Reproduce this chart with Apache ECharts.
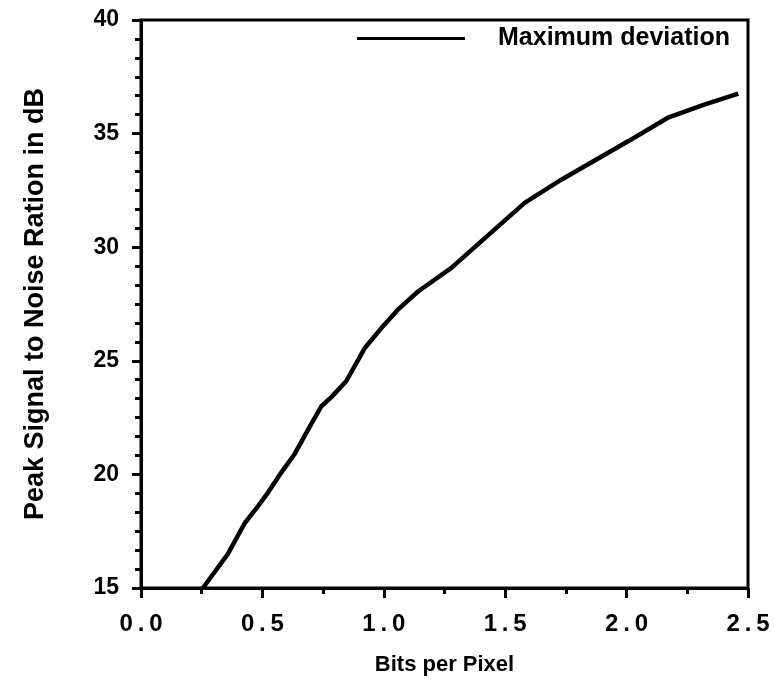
<!DOCTYPE html>
<html>
<head>
<meta charset="utf-8">
<script src="https://cdn.jsdelivr.net/npm/echarts@6/dist/echarts.min.js"></script>
<style>html,body{margin:0;padding:0;background:#fff}#c{width:775px;height:681px}</style>
</head>
<body>
<div id="c"></div>
<script>
const bitsPerPixel = [0.255,0.358,0.427,0.475,0.523,0.577,0.633,0.695,0.743,0.784,0.845,0.921,0.99,1.058,1.141,1.277,1.58,1.731,2.006,2.17,2.32,2.46];
const psnr = [15.0,16.5,17.85,18.5,19.2,20.07,20.9,22.1,23.0,23.4,24.1,25.55,26.44,27.25,28.05,29.08,31.95,32.97,34.66,35.7,36.28,36.76];
const seriesName = 'Maximum deviation';
const xTitle = 'Bits per Pixel';
const yTitle = 'Peak Signal to Noise Ration in dB';

const chart = echarts.init(document.getElementById('c'), null, {renderer:'canvas'});
const font = 'Liberation Sans';
chart.setOption({
  animation:false,
  backgroundColor:'#fff',
  grid:{left:141,right:27,top:20,bottom:93,containLabel:false,outerBoundsMode:'none',
    show:true,borderColor:'#000',borderWidth:3,backgroundColor:'transparent'},
  legend:{
    left:352, top:21, itemWidth:108, itemHeight:3, icon:'rect',
    data:[{name:seriesName}],
    textStyle:{fontFamily:font,fontSize:25,fontWeight:'bold',color:'#000',padding:[0,0,0,28]}
  },
  xAxis:{
    type:'value', min:0, max:2.5, interval:0.5,
    name:xTitle, nameLocation:'middle', nameGap:66,
    nameTextStyle:{fontFamily:font,fontSize:22,fontWeight:'bold',color:'#000'},
    axisLine:{show:true,lineStyle:{color:'#000',width:3}},
    axisTick:{show:true,length:10,lineStyle:{color:'#000',width:3}},
    minorTick:{show:true,splitNumber:2,length:6,lineStyle:{color:'#000',width:3}},
    splitLine:{show:false},
    axisLabel:{fontFamily:font,fontSize:24,fontWeight:'bold',color:'#000',margin:24,
      formatter:v=>v.toFixed(1).split('').join('\u2009')}
  },
  yAxis:{
    type:'value', min:15, max:40, interval:5,
    name:yTitle, nameLocation:'middle', nameGap:92, nameRotate:90,
    nameTextStyle:{fontFamily:font,fontSize:27,fontWeight:'bold',color:'#000'},
    axisLine:{show:true,lineStyle:{color:'#000',width:3}},
    axisTick:{show:true,length:9,lineStyle:{color:'#000',width:3}},
    minorTick:{show:true,splitNumber:6,length:6,lineStyle:{color:'#000',width:3}},
    splitLine:{show:false},
    axisLabel:{fontFamily:font,fontSize:23,fontWeight:'bold',color:'#000',margin:22}
  },
  series:[{
    name:seriesName, type:'line', showSymbol:false, smooth:false,
    data:bitsPerPixel.map((x,i)=>[x,psnr[i]]),
    lineStyle:{color:'#000',width:4.5},
    itemStyle:{color:'#000'}
  }]
});
</script>
</body>
</html>
